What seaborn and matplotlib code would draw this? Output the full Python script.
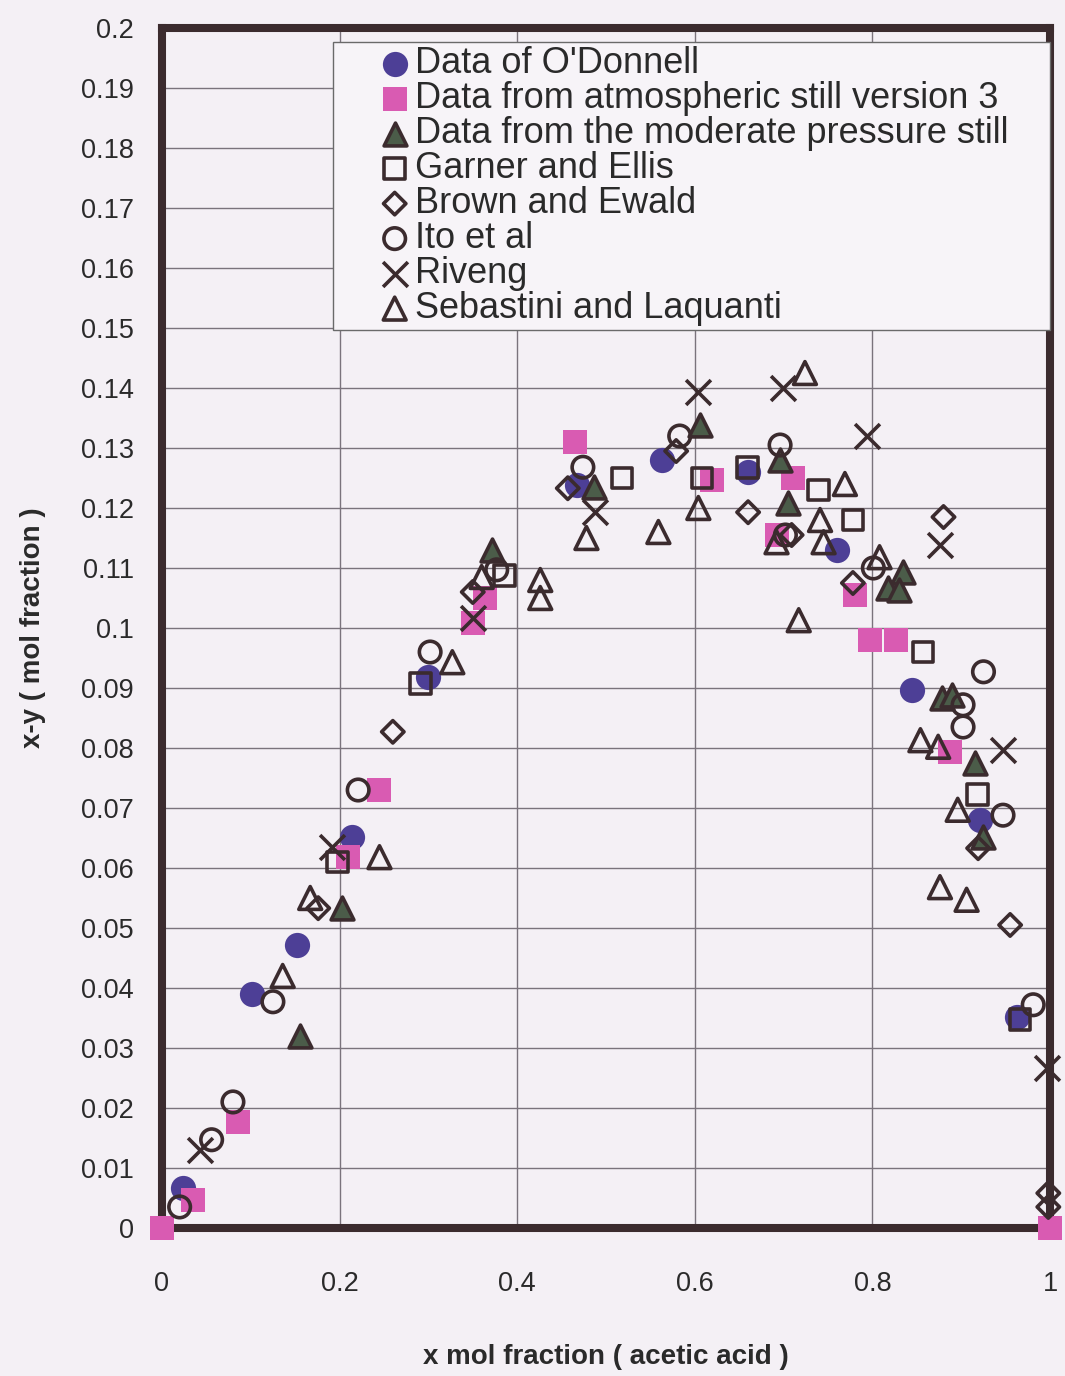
import matplotlib
matplotlib.use("Agg")

import seaborn              as sns
import matplotlib.pyplot    as plt
from matplotlib.ticker      import FuncFormatter

# | Data |-------------------------------------------------------------------------------------------------------------|
odonnell_x = [0.024, 0.101, 0.152, 0.214, 0.300, 0.467, 0.563, 0.660, 0.760, 0.845, 0.921, 0.963]
odonnell_y = [0.0067, 0.039, 0.0472, 0.0652, 0.0918, 0.1238, 0.128, 0.126, 0.113, 0.0897, 0.068, 0.0352]

atmos_x = [0.0, 0.035, 0.086, 0.209, 0.245, 0.350, 0.364, 0.465, 0.619, 0.711, 0.692, 0.780,
           0.797, 0.826, 0.887, 1.0]
atmos_y = [0.0, 0.0047, 0.0177, 0.0618, 0.073, 0.1008, 0.105, 0.131, 0.1247, 0.125, 0.1155, 0.1055,
           0.098, 0.098, 0.0793, 0.0]

moderate_x = [0.155, 0.203, 0.372, 0.486, 0.606, 0.696, 0.705, 0.834, 0.818, 0.830, 0.878, 0.890, 0.916, 0.925]
moderate_y = [0.032, 0.0533, 0.113, 0.1235, 0.1338, 0.128, 0.1208, 0.1093, 0.1067, 0.1063, 0.0883, 0.0888,
              0.0775, 0.0652]

garner_x = [0.198, 0.291, 0.386, 0.518, 0.608, 0.659, 0.739, 0.778, 0.857, 0.918, 0.966]
garner_y = [0.061, 0.0908, 0.1088, 0.125, 0.125, 0.1268, 0.123, 0.118, 0.096, 0.0722, 0.0347]

brown_x = [0.176, 0.260, 0.350, 0.457, 0.579, 0.660, 0.709, 0.778, 0.880, 0.919, 0.955, 0.998, 0.998]
brown_y = [0.0533, 0.0827, 0.106, 0.1233, 0.1295, 0.1193, 0.1155, 0.1075, 0.1185, 0.0633, 0.0505, 0.0058, 0.0035]

ito_x = [0.020, 0.056, 0.080, 0.125, 0.221, 0.302, 0.377, 0.474, 0.583, 0.696, 0.702, 0.801, 0.902,
         0.902, 0.925, 0.947, 0.981]
ito_y = [0.0035, 0.0147, 0.021, 0.0377, 0.073, 0.096, 0.1097, 0.1268, 0.132, 0.1305, 0.1155, 0.110, 0.0872,
         0.0835, 0.0927, 0.0688, 0.0372]

riveng_x = [0.043, 0.191, 0.350, 0.488, 0.604, 0.699, 0.794, 0.876, 0.947, 0.997]
riveng_y = [0.013, 0.0635, 0.1017, 0.1193, 0.1393, 0.140, 0.132, 0.1138, 0.0797, 0.0267]

sebastini_x = [0.136, 0.167, 0.245, 0.327, 0.360, 0.426, 0.426, 0.478, 0.559, 0.604, 0.724, 0.717, 0.692,
               0.741, 0.745, 0.769, 0.808, 0.854, 0.874, 0.896, 0.876, 0.906]
sebastini_y = [0.042, 0.055, 0.0618, 0.0943, 0.1085, 0.108, 0.105, 0.115, 0.116, 0.120, 0.1425, 0.1013, 0.1143,
               0.118, 0.1143, 0.124, 0.1118, 0.0813, 0.0802, 0.0697, 0.0568, 0.0547]

x_ticks = [0, 0.2, 0.4, 0.6, 0.8, 1.0]
y_ticks = [i / 100 for i in range(0, 21)]
# |--------------------------------------------------------------------------------------------------------------------|

BG      = "#f4f0f5"
INK     = "#3b2b2e"
BLUE    = "#4d3f96"
PINK    = "#d95bb2"
GREEN   = "#4b5c49"
TEXT    = "#2a2a2a"

sns.set_theme(style="white")
plt.rcParams["font.family"] = ["Liberation Sans", "DejaVu Sans"]

fig = plt.figure(figsize=(10.65, 13.76), dpi=100, facecolor=BG)
ax = fig.add_axes([0.152, 0.1076, 0.834, 0.872], facecolor=BG)

open_kw = dict(facecolor="none", edgecolor=INK, linewidth=2.6, zorder=4, clip_on=False)

sns.scatterplot(x=odonnell_x, y=odonnell_y, marker="o", s=330, color=BLUE, linewidth=0,
                label="Data of O'Donnell", ax=ax, zorder=3, clip_on=False)
sns.scatterplot(x=atmos_x, y=atmos_y, marker="s", s=320, color=PINK, linewidth=0,
                label="Data from atmospheric still version 3", ax=ax, zorder=3, clip_on=False)
sns.scatterplot(x=moderate_x, y=moderate_y, marker="^", s=270, facecolor=GREEN, edgecolor=INK, linewidth=2.6,
                label="Data from the moderate pressure still", ax=ax, zorder=4, clip_on=False)
sns.scatterplot(x=garner_x, y=garner_y, marker="s", s=220, label="Garner and Ellis", ax=ax, **open_kw)
sns.scatterplot(x=brown_x, y=brown_y, marker="D", s=130, label="Brown and Ewald", ax=ax, **open_kw)
sns.scatterplot(x=ito_x, y=ito_y, marker="o", s=240, label="Ito et al", ax=ax, **open_kw)
sns.scatterplot(x=riveng_x, y=riveng_y, marker="x", s=320, color=INK, linewidth=2.6,
                label="Riveng", ax=ax, zorder=4, clip_on=False)
sns.scatterplot(x=sebastini_x, y=sebastini_y, marker="^", s=270, label="Sebastini and Laquanti", ax=ax, **open_kw)

# axes, grid and ticks
ax.set_xlim(0, 1)
ax.set_ylim(0, 0.2)
ax.set_xticks(x_ticks)
ax.set_yticks(y_ticks)
ax.xaxis.set_major_formatter(FuncFormatter(lambda v, p: f"{v:g}"))
ax.yaxis.set_major_formatter(FuncFormatter(lambda v, p: f"{round(v, 2):g}"))
ax.grid(True, color="#7a737c", linewidth=1.0)
ax.set_axisbelow(True)
ax.tick_params(axis="both", length=0, labelsize=19.5, colors=TEXT)
ax.tick_params(axis="x", pad=31)
ax.tick_params(axis="y", pad=20)
for side in ["left", "right", "top", "bottom"]:
    ax.spines[side].set_visible(True)
    ax.spines[side].set_color(INK)
    ax.spines[side].set_linewidth(5.8)

ax.set_xlabel("x mol fraction ( acetic acid )", fontsize=20, fontweight="bold", color=TEXT, labelpad=34)
ax.set_ylabel("x-y ( mol fraction )", fontsize=20, fontweight="bold", color=TEXT, labelpad=25)

# legend box spans from x=0.19 to the right spine, like the original sheet
leg = ax.legend(loc="upper left", bbox_to_anchor=(0.1926, 0.746, 0.8074, 0.242), mode="expand",
                borderaxespad=0, fontsize=26, frameon=True, fancybox=False, framealpha=1,
                facecolor="#f7f4f8", edgecolor="#6a6a6a", handlelength=3.22, handletextpad=-1.05,
                labelspacing=0.0, borderpad=0.1)
leg.get_frame().set_linewidth(1.0)
leg.set_zorder(5)
for t in leg.get_texts():
    t.set_color(TEXT)

fig.savefig("out.png", dpi=100, facecolor=BG)
